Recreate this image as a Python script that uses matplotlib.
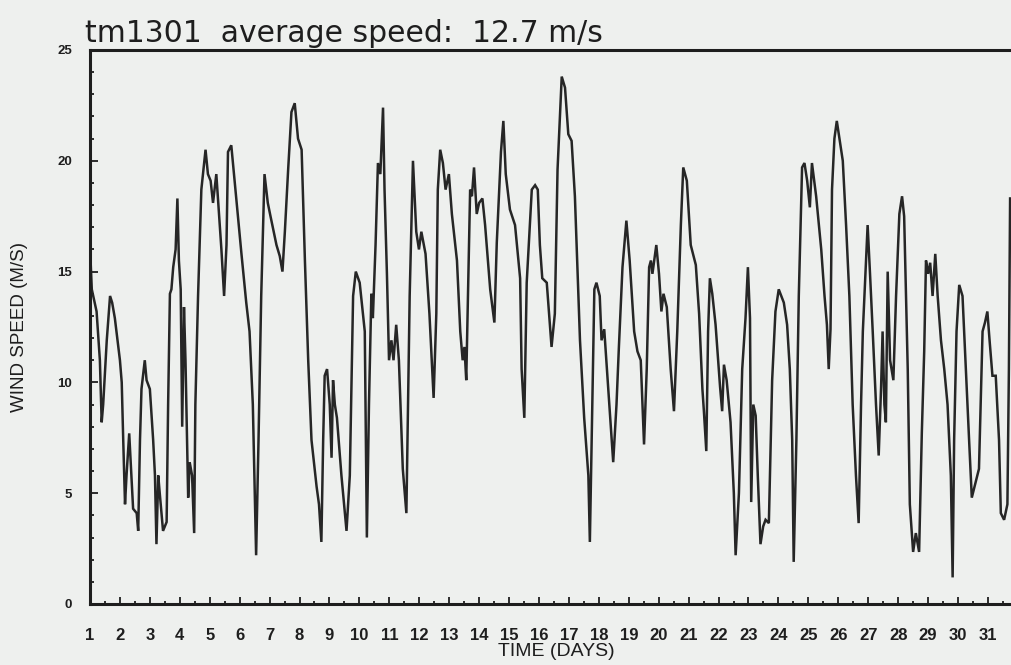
import matplotlib
matplotlib.use("Agg")
import matplotlib.pyplot as plt
from matplotlib.ticker import MultipleLocator
import numpy as np

# wind speed record (day of month, m/s)
days = [
    1.00, 1.06, 1.22, 1.33, 1.39, 1.44, 1.56, 1.67, 1.74, 1.83,
    2.00, 2.06, 2.11, 2.17, 2.22, 2.31, 2.37, 2.44, 2.56, 2.61,
    2.67, 2.72, 2.83, 2.89, 3.00, 3.11, 3.17, 3.22, 3.28, 3.33,
    3.44, 3.56, 3.61, 3.67, 3.72, 3.78, 3.86, 3.92, 3.97, 4.03,
    4.08, 4.14, 4.19, 4.28, 4.33, 4.41, 4.48, 4.52, 4.61, 4.72,
    4.86, 4.94, 5.03, 5.11, 5.22, 5.30, 5.39, 5.48, 5.56, 5.61,
    5.72, 5.83, 6.06, 6.22, 6.33, 6.44, 6.55, 6.63, 6.72, 6.83,
    6.94, 7.03,
    7.23, 7.34, 7.43, 7.51, 7.62, 7.73, 7.84, 7.95, 8.07, 8.18,
    8.29, 8.40, 8.57, 8.65, 8.73, 8.79, 8.84, 8.92, 9.01, 9.07,
    9.12, 9.18, 9.25, 9.40, 9.57, 9.68, 9.79, 9.88, 10.01, 10.18,
    10.25, 10.32, 10.40, 10.45, 10.54, 10.62, 10.70, 10.79, 10.84, 10.92,
    10.99, 11.07, 11.14, 11.23, 11.32, 11.45, 11.57, 11.68, 11.79, 11.90,
    11.99, 12.07, 12.21, 12.34, 12.48, 12.57, 12.62, 12.70, 12.79, 12.88,
    12.99,
    13.09, 13.26, 13.37, 13.45, 13.51, 13.57, 13.65, 13.70, 13.76, 13.83,
    13.92, 14.00, 14.11, 14.20, 14.37, 14.51, 14.59, 14.73, 14.81, 14.89,
    15.03, 15.20, 15.37, 15.42, 15.51, 15.59, 15.76, 15.87, 15.96, 16.03,
    16.11, 16.26, 16.42, 16.53, 16.62, 16.76, 16.87, 16.98, 17.09, 17.20,
    17.37, 17.51, 17.65, 17.70, 17.76, 17.85, 17.92, 18.03, 18.09, 18.18,
    18.31, 18.48, 18.59, 18.67, 18.73, 18.79, 18.92, 19.03,
    19.18, 19.29, 19.40, 19.51, 19.60, 19.68, 19.74, 19.79, 19.92, 20.01,
    20.09, 20.16, 20.27, 20.40, 20.51, 20.62, 20.74, 20.82, 20.94, 21.07,
    21.24, 21.35, 21.46, 21.51, 21.59, 21.65, 21.71, 21.79, 21.90, 22.05,
    22.12, 22.18, 22.27, 22.40, 22.51, 22.57, 22.68, 22.79, 22.90, 22.98,
    23.05, 23.09, 23.16, 23.24, 23.31, 23.40, 23.49, 23.57, 23.68, 23.79,
    23.90, 24.01, 24.18, 24.29, 24.38, 24.46, 24.51, 24.60, 24.68, 24.79,
    24.87, 24.96, 25.05, 25.12,
    25.26, 25.43, 25.54, 25.62, 25.68, 25.74, 25.79, 25.87, 25.95, 26.04,
    26.15, 26.26, 26.37, 26.48, 26.59, 26.68, 26.76, 26.82, 26.90, 26.98,
    27.06, 27.15, 27.26, 27.35, 27.43, 27.48, 27.54, 27.59, 27.65, 27.73,
    27.84, 27.93, 28.04, 28.13, 28.20, 28.32, 28.39, 28.50, 28.59, 28.70,
    28.79, 28.87, 28.93, 29.00, 29.07, 29.15, 29.24, 29.32, 29.43, 29.54,
    29.65, 29.76, 29.82, 29.87, 29.95, 30.04, 30.15, 30.26, 30.37, 30.46,
    30.57, 30.70, 30.82, 30.90, 30.98, 31.06, 31.15, 31.26, 31.37, 31.43,
    31.54, 31.65, 31.70, 31.74,
]
speed = [
    16.1, 14.2, 13.2, 11.0, 8.2, 9.0, 11.9, 13.9, 13.6, 12.9,
    11.0, 10.0, 7.4, 4.5, 5.8, 7.7, 6.1, 4.3, 4.1, 3.3,
    7.4, 9.7, 11.0, 10.1, 9.7, 7.4, 5.8, 2.7, 5.8, 5.0,
    3.3, 3.7, 9.0, 14.0, 14.2, 15.2, 16.0, 18.3, 15.5, 14.2,
    8.0, 13.4, 11.0, 4.8, 6.4, 5.8, 3.2, 9.0, 13.9, 18.7,
    20.5, 19.4, 19.1, 18.1, 19.4, 17.8, 16.0, 13.9, 16.2, 20.4,
    20.7, 19.1, 15.8, 13.6, 12.3, 9.0, 2.2, 7.4, 13.9, 19.4,
    18.1, 17.5,
    16.2, 15.7, 15.0, 16.8, 19.6, 22.2, 22.6, 21.0, 20.5, 15.5,
    11.0, 7.4, 5.3, 4.5, 2.8, 7.4, 10.3, 10.6, 9.0, 6.6,
    10.1, 9.0, 8.4, 5.8, 3.3, 5.8, 13.9, 15.0, 14.5, 12.3,
    3.0, 9.0, 14.0, 12.9, 16.2, 19.9, 19.4, 22.4, 18.7, 14.9,
    11.0, 11.9, 11.0, 12.6, 11.0, 6.1, 4.1, 13.9, 20.0, 16.8,
    16.0, 16.8, 15.8, 13.1, 9.3, 13.1, 18.7, 20.5, 19.9, 18.7,
    19.4,
    17.6, 15.5, 12.3, 11.0, 11.6, 10.1, 15.5, 18.7, 18.4, 19.7,
    17.6, 18.1, 18.3, 17.1, 14.2, 12.7, 16.3, 20.4, 21.8, 19.4,
    17.8, 17.1, 14.7, 10.6, 8.4, 14.5, 18.7, 18.9, 18.7, 16.2,
    14.7, 14.5, 11.6, 13.1, 19.6, 23.8, 23.3, 21.2, 20.9, 18.4,
    11.9, 8.4, 5.8, 2.8, 7.4, 14.2, 14.5, 13.9, 11.9, 12.4,
    9.8, 6.4, 9.0, 11.6, 13.4, 15.2, 17.3, 15.5,
    12.3, 11.4, 11.0, 7.2, 10.6, 15.2, 15.5, 14.9, 16.2, 14.9,
    13.2, 14.0, 13.4, 10.6, 8.7, 12.3, 17.1, 19.7, 19.1, 16.2,
    15.3, 13.1, 9.7, 8.7, 6.9, 12.3, 14.7, 14.0, 12.6, 9.8,
    8.7, 10.8, 10.1, 8.2, 5.0, 2.2, 5.0, 10.6, 12.9, 15.2,
    12.9, 4.6, 9.0, 8.5, 5.8, 2.7, 3.5, 3.8, 3.65, 10.1,
    13.2, 14.2, 13.6, 12.6, 10.6, 7.4, 1.9, 7.4, 13.9, 19.7,
    19.9, 19.1, 17.9, 19.9,
    18.4, 16.0, 13.9, 12.6, 10.6, 12.4, 18.7, 21.0, 21.8, 21.0,
    20.0, 17.1, 13.9, 9.0, 5.8, 3.65, 9.0, 12.3, 14.7, 17.1,
    14.9, 12.3, 9.0, 6.7, 9.8, 12.3, 9.0, 8.2, 15.0, 11.0,
    10.1, 13.9, 17.6, 18.4, 17.5, 10.6, 4.5, 2.35, 3.2, 2.35,
    7.7, 11.4, 15.5, 14.9, 15.4, 13.9, 15.8, 13.9, 11.9, 10.6,
    9.0, 5.8, 1.2, 7.4, 12.3, 14.4, 13.9, 10.6, 7.4, 4.8,
    5.4, 6.1, 12.3, 12.7, 13.2, 11.8, 10.3, 10.3, 7.4, 4.1,
    3.8, 4.5, 10.6, 18.3,
]

day_ticks = list(range(1, 32))
speed_ticks = [0, 5, 10, 15, 20, 25]
station = "tm1301"
avg_speed = 12.7

paper = "#eef0ee"
ink = "#1e1e1e"

fig = plt.figure(figsize=(10.11, 6.65), dpi=100, facecolor=paper)
ax = fig.add_axes([90 / 1011, 61 / 665, 1 - 90 / 1011, 554 / 665])
ax.set_facecolor(paper)

ax.plot(days, speed, color="#262626", lw=1.8, solid_joinstyle="miter")

ax.set_xlim(1, 31.77)
ax.set_ylim(0, 25)

ax.set_xticks(day_ticks)
ax.xaxis.set_minor_locator(MultipleLocator(0.5))
ax.set_yticks(speed_ticks)
ax.yaxis.set_minor_locator(MultipleLocator(1))

tick_font = dict(family="Liberation Sans", weight="bold")
ax.set_xticklabels([str(d) for d in day_ticks], fontsize=12, color=ink, **tick_font)
ax.set_yticklabels([str(s) for s in speed_ticks], fontsize=9.5, color=ink, **tick_font)

ax.tick_params(axis="x", which="major", direction="in", length=5, width=1.3, pad=17, colors=ink)
ax.tick_params(axis="x", which="minor", direction="in", length=2.2, width=1.3, colors=ink)
ax.tick_params(axis="y", which="major", direction="in", length=6, width=1.3, pad=13, colors=ink)
ax.tick_params(axis="y", which="minor", direction="in", length=3, width=1.3, colors=ink)

for side in ["left", "bottom", "top"]:
    ax.spines[side].set_linewidth(2.2)
    ax.spines[side].set_color(ink)
ax.spines["right"].set_visible(False)

ax.set_xlabel("TIME (DAYS)", fontsize=14, family="Liberation Sans", color=ink, labelpad=0)
ax.xaxis.set_label_coords((556 - 90) / (1011 - 90), -39 / 554)
ax.set_ylabel("WIND SPEED (M/S)", fontsize=13.5, family="Liberation Sans", color=ink)
ax.yaxis.set_label_coords(-62 / 921, 0.5)

fig.text(85 / 1011, 1 - 42 / 665, f"{station}  average speed:  {avg_speed} m/s",
         fontsize=21.5, family="DejaVu Sans", color=ink, va="baseline", ha="left")

fig.savefig("out.png", dpi=100, facecolor=paper)
